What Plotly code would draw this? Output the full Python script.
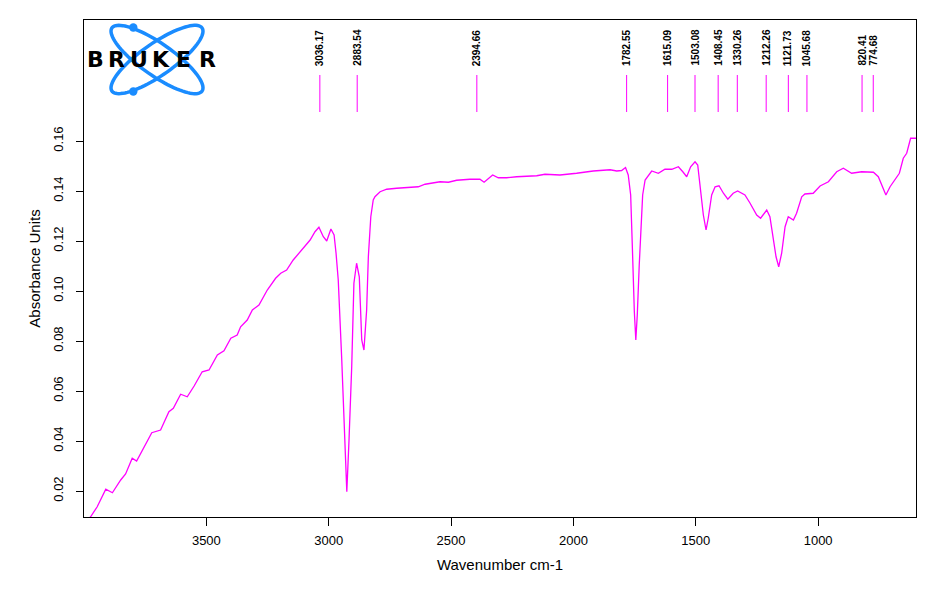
import numpy as np
import plotly.graph_objects as go

# ---- Spectrum data ----
wavenumber = [4000, 3973, 3946, 3911, 3884, 3850, 3830, 3803, 3785, 3755, 3723, 3687, 3653, 3635,
              3605, 3578, 3550, 3517, 3489, 3455, 3428, 3400, 3374, 3360, 3333, 3312, 3285, 3251,
              3217, 3196, 3172, 3145, 3104, 3076, 3056, 3040, 3022, 3008, 2991, 2978, 2970, 2961,
              2947, 2937, 2926, 2917, 2906, 2897, 2886, 2875, 2865, 2856, 2845, 2838, 2828, 2818,
              2811, 2790, 2763, 2722, 2688, 2634, 2606, 2545, 2511, 2477, 2423, 2382, 2365, 2348,
              2330, 2307, 2273, 2232, 2150, 2116, 2055, 1987, 1919, 1850, 1823, 1803, 1787, 1776,
              1766, 1759, 1755, 1751, 1745, 1739, 1731, 1724, 1717, 1707, 1680, 1653, 1626, 1598,
              1571, 1553, 1537, 1521, 1503, 1492, 1480, 1469, 1458, 1449, 1435, 1421, 1405, 1387,
              1369, 1347, 1329, 1299, 1278, 1251, 1235, 1210, 1197, 1183, 1172, 1161, 1149, 1135,
              1122, 1101, 1088, 1067, 1054, 1020, 992, 958, 924, 897, 863, 822, 774, 754, 736, 723,
              706, 686, 668, 652, 638, 622, 600]
absorbance = [0.0070, 0.0097, 0.0137, 0.0207, 0.0193, 0.0244, 0.0268, 0.0331, 0.0320, 0.0375,
              0.0433, 0.0444, 0.0517, 0.0531, 0.0587, 0.0577, 0.0620, 0.0677, 0.0684, 0.0744,
              0.0761, 0.0811, 0.0824, 0.0857, 0.0884, 0.0924, 0.0944, 0.1004, 0.1051, 0.1071,
              0.1084, 0.1124, 0.1171, 0.1204, 0.1237, 0.1255, 0.1217, 0.1200, 0.1248, 0.1224,
              0.1151, 0.1044, 0.0732, 0.0444, 0.0197, 0.0404, 0.0697, 0.1031, 0.1111, 0.1057,
              0.0804, 0.0764, 0.0924, 0.1137, 0.1297, 0.1364, 0.1377, 0.1397, 0.1407, 0.1411,
              0.1413, 0.1417, 0.1427, 0.1437, 0.1435, 0.1443, 0.1447, 0.1447, 0.1435, 0.1451,
              0.1464, 0.1453, 0.1453, 0.1457, 0.1461, 0.1467, 0.1464, 0.1471, 0.1480, 0.1485,
              0.1480, 0.1482, 0.1494, 0.1464, 0.1384, 0.1171, 0.1037, 0.0917, 0.0804, 0.0904,
              0.1104, 0.1251, 0.1384, 0.1444, 0.1480, 0.1471, 0.1487, 0.1487, 0.1497, 0.1477,
              0.1457, 0.1497, 0.1517, 0.1504, 0.1411, 0.1304, 0.1244, 0.1291, 0.1384, 0.1417,
              0.1421, 0.1391, 0.1367, 0.1391, 0.1400, 0.1384, 0.1351, 0.1304, 0.1291, 0.1324,
              0.1297, 0.1217, 0.1137, 0.1097, 0.1151, 0.1257, 0.1297, 0.1284, 0.1311, 0.1377,
              0.1388, 0.1391, 0.1420, 0.1437, 0.1477, 0.1491, 0.1471, 0.1477, 0.1475, 0.1457,
              0.1411, 0.1384, 0.1417, 0.1444, 0.1471, 0.1531, 0.1551, 0.1611, 0.1611]

peak_labels = ["3036.17", "2883.54", "2394.66", "1782.55", "1615.09", "1503.08", "1408.45",
               "1330.26", "1212.26", "1121.73", "1045.68", "820.41", "774.68"]
peak_positions = [float(p) for p in peak_labels]

y_tick_values = [0.02, 0.04, 0.06, 0.08, 0.10, 0.12, 0.14, 0.16]
y_tick_labels = ["0.02", "0.04", "0.06", "0.08", "0.10", "0.12", "0.14", "0.16"]
x_tick_values = [3500, 3000, 2500, 2000, 1500, 1000]
x_tick_labels = ["3500", "3000", "2500", "2000", "1500", "1000"]

# ---- Layout geometry ----
# The html page body has an 8px margin, so the figure is drawn 8px smaller and
# the plot area lands on page pixels x 84..916, y 20..517.
OFF = 8
W, H = 944 - OFF, 590 - OFF
L, R, T, B = 84 - OFF, 28, 20 - OFF, 73
PX0, PY1 = 84, 517          # page coords of plot area left / bottom
PW, PH = 832, 497


def px(x):
    return (x - PX0) / PW


def py(y):
    return (PY1 - y) / PH


MAG = "#ff00ff"
FONT = "Liberation Sans, Arial, sans-serif"

fig = go.Figure()
fig.add_trace(go.Scatter(x=wavenumber, y=absorbance, mode="lines",
                         line=dict(color=MAG, width=1.3), hoverinfo="skip",
                         showlegend=False))

shapes = []
annotations = []
# peak marker lines + labels
for pos, lab in zip(peak_positions, peak_labels):
    shapes.append(dict(type="line", xref="x", yref="paper", x0=pos, x1=pos,
                       y0=py(112), y1=py(75), line=dict(color=MAG, width=1)))
    annotations.append(dict(x=pos, xref="x", y=py(68), yref="paper", text=lab,
                            showarrow=False, textangle=-90, xanchor="center",
                            yanchor="bottom",
                            font=dict(family=FONT, size=10, color="black", weight="bold")))

# ---- Bruker logo ----
BLUE = "#1a8cff"
cx, cy, a, b = 157, 59.5, 55, 16
t = np.linspace(0, 2 * np.pi, 90)
for ang in (35, -35):
    th = np.radians(ang)
    xs = cx + a * np.cos(t) * np.cos(th) - b * np.sin(t) * np.sin(th)
    ys = cy + a * np.cos(t) * np.sin(th) + b * np.sin(t) * np.cos(th)
    path = "M " + " L ".join(f"{px(x):.5f},{py(y):.5f}" for x, y in zip(xs, ys)) + " Z"
    shapes.append(dict(type="path", xref="paper", yref="paper", path=path,
                       line=dict(color=BLUE, width=3.5)))
for (dx, dy) in [(133.3, 27.5), (133.3, 91.5)]:
    r = 4.2
    shapes.append(dict(type="circle", xref="paper", yref="paper",
                       x0=px(dx - r), x1=px(dx + r), y0=py(dy + r), y1=py(dy - r),
                       fillcolor=BLUE, line=dict(color=BLUE, width=0)))
for ch, xc in zip("BRUKER", [95, 116.5, 138.5, 161, 183.5, 207]):
    annotations.append(dict(x=px(xc), y=py(59.5), xref="paper", yref="paper", text=ch,
                            showarrow=False, xanchor="center", yanchor="middle",
                            font=dict(family="DejaVu Sans, sans-serif", size=22,
                                      color="black", weight="bold")))

fig.update_layout(
    width=W, height=H,
    margin=dict(l=L, r=R, t=T, b=B, autoexpand=False),
    paper_bgcolor="white", plot_bgcolor="white",
    shapes=shapes, annotations=annotations,
    font=dict(family=FONT, color="black"),
    xaxis=dict(range=[4000, 600], tickvals=x_tick_values, ticktext=x_tick_labels,
               ticks="outside", ticklen=8, tickcolor="black", tickwidth=1,
               ticklabelstandoff=3,
               showline=True, linecolor="black", linewidth=1, mirror=True,
               showgrid=False, zeroline=False, automargin=False,
               tickfont=dict(family=FONT, size=13, color="black"),
               title=dict(text="Wavenumber cm-1",
                          font=dict(family=FONT, size=15, color="black"),
                          standoff=12)),
    yaxis=dict(range=[0.0096, 0.2084], tickvals=y_tick_values, ticktext=y_tick_labels,
               ticks="outside", ticklen=7, tickcolor="black", tickwidth=1,
               tickangle=-90, ticklabelstandoff=8,
               showline=True, linecolor="black", linewidth=1, mirror=True,
               showgrid=False, zeroline=False, automargin=False,
               tickfont=dict(family=FONT, size=13, color="black"),
               title=dict(text="Absorbance Units",
                          font=dict(family=FONT, size=15, color="black"),
                          standoff=6)),
)

fig.write_html("out.html")
